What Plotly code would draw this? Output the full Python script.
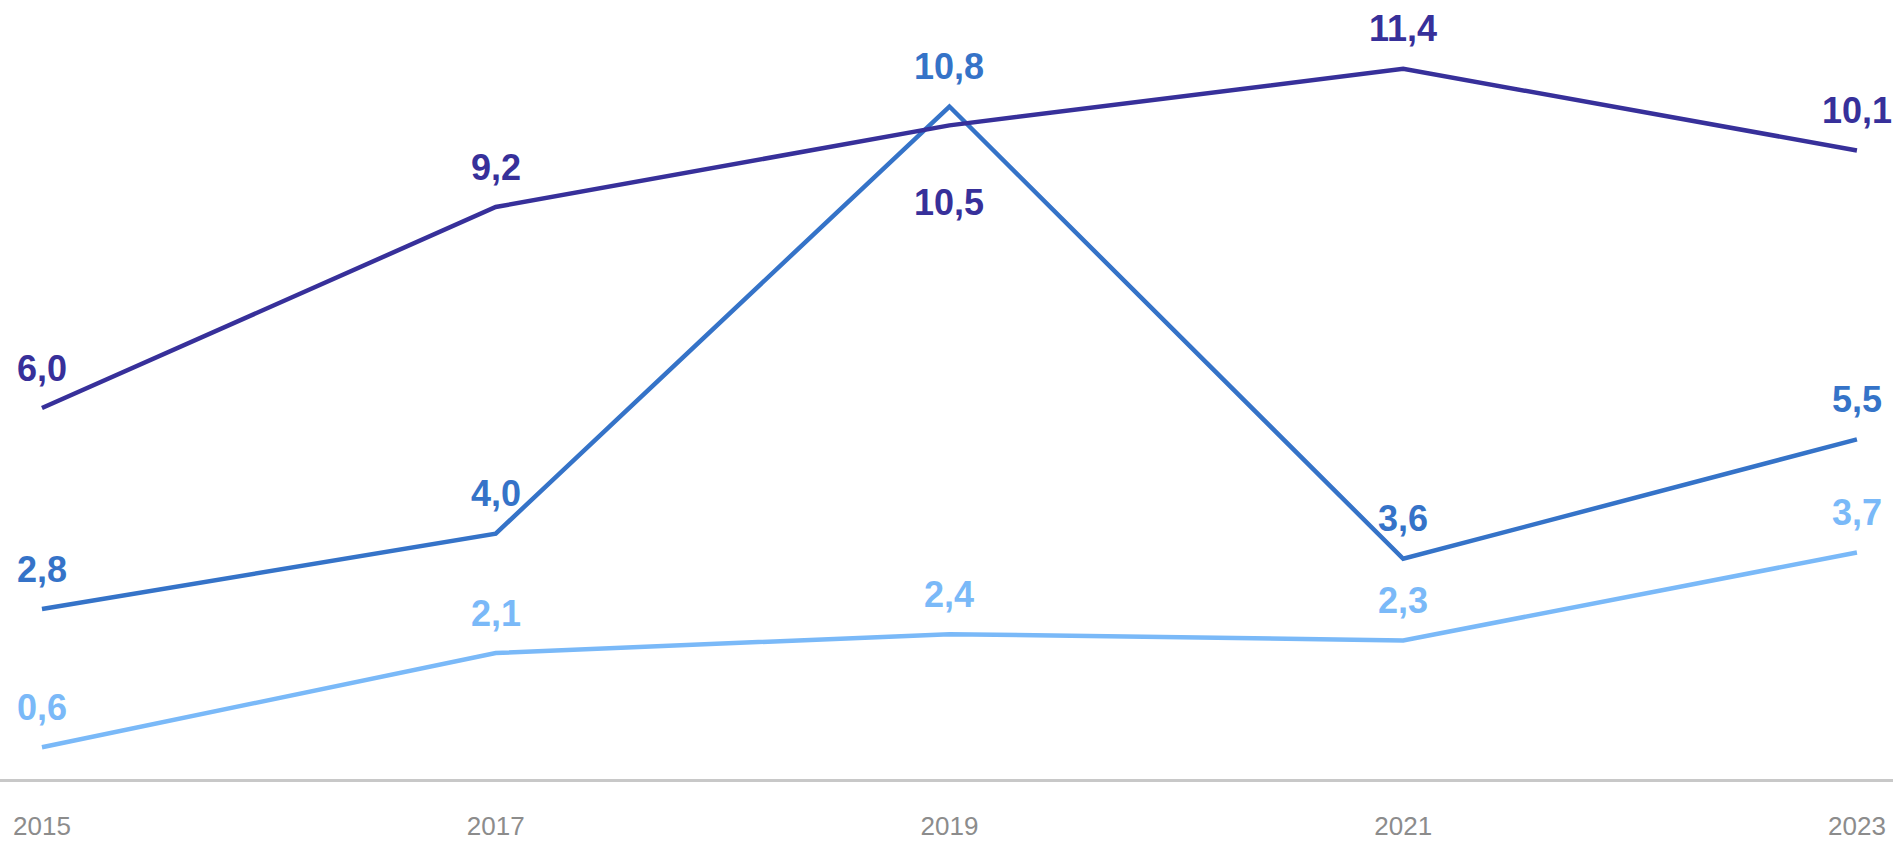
import plotly.graph_objects as go

years = [2015, 2017, 2019, 2021, 2023]
tick_labels = ["2015", "2017", "2019", "2021", "2023"]

series_dark = [6.0, 9.2, 10.5, 11.4, 10.1]
series_mid = [2.8, 4.0, 10.8, 3.6, 5.5]
series_light = [0.6, 2.1, 2.4, 2.3, 3.7]

# label placement per point (style only)
side_dark = ["above", "above", "below", "above", "above"]
side_mid = ["above"] * 5
side_light = ["above"] * 5

colors = {"dark": "#37309a", "mid": "#3573c8", "light": "#7ab9f8"}

fig = go.Figure()
annotations = []

for key, vals, sides in [("light", series_light, side_light),
                         ("mid", series_mid, side_mid),
                         ("dark", series_dark, side_dark)]:
    fig.add_trace(go.Scatter(
        x=years, y=vals, mode="lines",
        line=dict(color=colors[key], width=4.5),
        hoverinfo="skip", showlegend=False,
    ))
    for x, v, s in zip(years, vals, sides):
        annotations.append(dict(
            x=x, y=v, xref="x", yref="y",
            text="<b>" + f"{v:.1f}".replace(".", ",") + "</b>",
            showarrow=False,
            font=dict(family="Liberation Sans, Arial, sans-serif", size=36, color=colors[key]),
            xanchor="center", yanchor="middle",
            yshift=40 if s == "above" else -77,
        ))

fig.update_layout(
    width=1893, height=841,
    margin=dict(l=0, r=0, t=0, b=51),
    paper_bgcolor="white", plot_bgcolor="white",
    annotations=annotations,
    xaxis=dict(
        range=[2014.815, 2023.159],
        tickvals=years, ticktext=tick_labels,
        showgrid=False, zeroline=False,
        showline=True, linecolor="#c8c8c8", linewidth=3,
        ticks="outside", ticklen=22, tickcolor="rgba(0,0,0,0)",
        tickfont=dict(family="Liberation Sans, Arial, sans-serif", size=26, color="#8c8c8c"),
    ),
    yaxis=dict(
        range=[0.094, 12.496],
        visible=False, showgrid=False, zeroline=False,
    ),
)

fig.write_html(
    "out.html",
    config={"displayModeBar": False},
    post_script="document.body.style.margin='0';document.body.style.overflow='hidden';",
)
